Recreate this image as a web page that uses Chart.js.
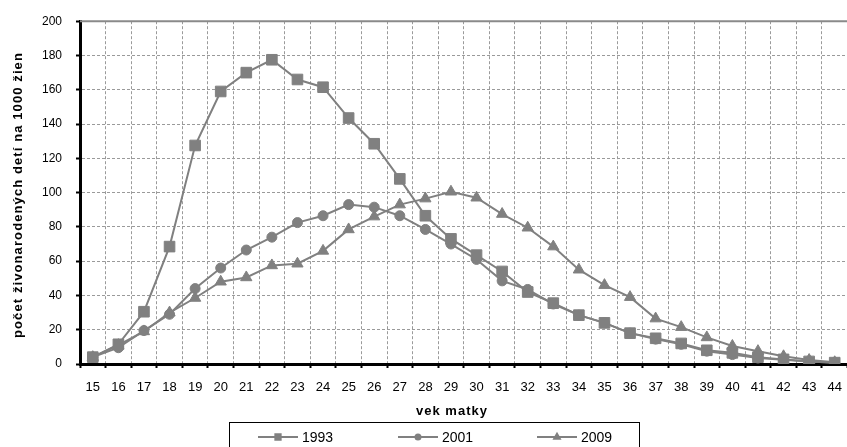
<!DOCTYPE html>
<html>
<head>
<meta charset="utf-8">
<script src="https://cdn.jsdelivr.net/npm/chart.js@4"></script>
<style>
  html, body { margin: 0; padding: 0; background: #fff; overflow: hidden; }
  canvas { display: block; }
</style>
</head>
<body>
<canvas id="chart" width="856" height="447"></canvas>
<script>
const ages = ["15","16","17","18","19","20","21","22","23","24","25","26","27","28","29",
              "30","31","32","33","34","35","36","37","38","39","40","41","42","43","44"];
const seriesNames = ["1993", "2001", "2009"];
const values1993 = [4, 11.5, 30.5, 68.5, 127.5, 159, 170, 177.5, 166, 161.5, 143.5, 128.5, 108, 86.5, 73,
                    63.5, 54, 42, 35.5, 28.5, 24, 18, 15, 12, 8, 6.5, 4, 2.7, 1.5, 0.8];
const values2001 = [4, 9.5, 19.5, 29, 44, 56, 66.5, 74, 82.5, 86.5, 93, 91.5, 86.5, 78.5, 70,
                    61, 48.5, 43.5, 35, 28.5, 24, 18, 14.5, 11.5, 7.5, 5.5, 3.5, 2.5, 1.5, 0.7];
const values2009 = [4, 11, 19, 30, 38.5, 48, 50.5, 57.5, 58.5, 66, 78.5, 86, 93, 96.5, 100.5,
                    97, 87.5, 79.5, 68.5, 55, 46, 39, 26.5, 21.5, 15.5, 10.5, 7.5, 4.5, 2.3, 1];

const GRAY = "#808080";
const FONT = "'Liberation Sans', Arial, sans-serif";
const pointStyles = ["rect", "circle", "triangle"];
const pointSizes = [7.5, 5, 6.5];

// titles, top border and boxed legend
const decorations = {
    id: "decorations",
    beforeDatasetsDraw(chart) {
        const { ctx, chartArea } = chart;
        ctx.save();
        ctx.strokeStyle = "#8a8a8a";
        ctx.lineWidth = 2;
        ctx.beginPath();
        ctx.moveTo(chartArea.left, chartArea.top);
        ctx.lineTo(chartArea.right, chartArea.top);
        ctx.stroke();
        ctx.restore();
    },
    afterDraw(chart) {
        const { ctx } = chart;
        ctx.save();
        ctx.fillStyle = "#000";
        ctx.textAlign = "center";
        ctx.textBaseline = "middle";

        ctx.font = "bold 13px " + FONT;
        ctx.letterSpacing = "1.1px";
        ctx.save();
        ctx.translate(18, 195);
        ctx.rotate(-Math.PI / 2);
        ctx.fillText("počet živonarodených detí na 1000 žien", 0, 0);
        ctx.restore();

        ctx.letterSpacing = "1px";
        ctx.fillText("vek matky", 452, 411);
        ctx.letterSpacing = "0px";

        // legend box
        ctx.strokeStyle = "#000";
        ctx.lineWidth = 1;
        ctx.strokeRect(229.5, 422.5, 410, 40);

        const startX = [258, 398, 537];
        const legY = 437;
        ctx.font = "14px " + FONT;
        ctx.textAlign = "left";
        seriesNames.forEach((name, i) => {
            const x0 = startX[i];
            ctx.strokeStyle = GRAY;
            ctx.lineWidth = 2;
            ctx.beginPath();
            ctx.moveTo(x0, legY);
            ctx.lineTo(x0 + 40, legY);
            ctx.stroke();
            Chart.helpers.drawPoint(ctx, {
                pointStyle: pointStyles[i],
                radius: pointSizes[i] * 0.5,
                borderWidth: 1
            }, x0 + 20, legY);
            ctx.fillStyle = GRAY;
            ctx.fill();
            ctx.fillStyle = "#000";
            ctx.fillText(name, x0 + 44, legY + 1);
        });
        ctx.restore();
    }
};

const allValues = [values1993, values2001, values2009];

new Chart(document.getElementById("chart").getContext("2d"), {
    type: "line",
    data: {
        labels: ages,
        datasets: seriesNames.map((name, i) => ({
            label: name,
            data: allValues[i],
            borderColor: GRAY,
            backgroundColor: GRAY,
            borderWidth: 2,
            pointStyle: pointStyles[i],
            pointRadius: pointSizes[i],
            pointBorderWidth: 1,
            pointBorderColor: GRAY,
            pointBackgroundColor: GRAY,
            tension: 0,
            fill: false
        }))
    },
    options: {
        responsive: false,
        animation: false,
        layout: { padding: { top: 14, left: 0, right: 5, bottom: 0 } },
        plugins: {
            legend: { display: false },
            tooltip: { enabled: false }
        },
        scales: {
            x: {
                offset: true,
                afterFit: scale => { scale.height = 83; },
                grid: {
                    offset: true,
                    color: "#9a9a9a",
                    lineWidth: 1,
                    tickLength: 4,
                    tickColor: "#000",
                    tickWidth: 2
                },
                border: { color: "#000", width: 3, dash: [3, 2] },
                ticks: {
                    autoSkip: false,
                    maxRotation: 0,
                    padding: 12,
                    color: "#000",
                    font: { family: FONT, size: 13 }
                }
            },
            y: {
                min: 0,
                max: 200,
                afterFit: scale => { scale.width = 80; },
                grid: {
                    color: "#9a9a9a",
                    lineWidth: 1,
                    tickLength: 4,
                    tickColor: "#000",
                    tickWidth: 2
                },
                border: { color: "#000", width: 3, dash: [3, 2] },
                ticks: {
                    stepSize: 20,
                    padding: 14,
                    color: "#000",
                    font: { family: FONT, size: 12 }
                }
            }
        }
    },
    plugins: [decorations]
});
</script>
</body>
</html>
